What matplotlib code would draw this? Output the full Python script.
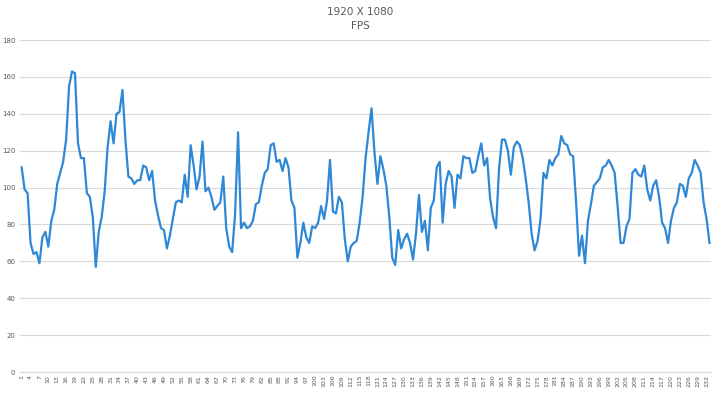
import numpy as np
import matplotlib.pyplot as plt

# fps values, frame samples 1..233
fps = [111, 99, 97, 70, 64, 65, 59, 73, 76, 68,
       82, 88, 102, 108, 114, 126, 155, 163, 162, 124,
       116, 116, 97, 95, 84, 57, 76, 84, 98, 122,
       136, 124, 140, 141, 153, 126, 106, 105, 102, 104,
       104, 112, 111, 104, 109, 93, 85, 78, 77, 67,
       74, 83, 92, 93, 92, 107, 95, 123, 112, 99,
       106, 125, 98, 100, 95, 88, 90, 92, 106, 78,
       68, 65, 86, 130, 78, 81, 78, 79, 82, 91,
       92, 101, 108, 110, 123, 124, 114, 115, 109, 116,
       111, 93, 89, 62, 70, 81, 73, 70, 79, 78,
       81, 90, 83, 93, 115, 87, 86, 95, 92, 72,
       60, 68, 70, 71, 81, 95, 116, 130, 143, 119,
       102, 117, 110, 101, 84, 62, 58, 77, 67, 72,
       75, 70, 61, 75, 96, 76, 82, 66, 89, 93,
       111, 114, 81, 102, 109, 106, 89, 107, 105, 117,
       116, 116, 108, 109, 117, 124, 112, 116, 94, 84,
       78, 110, 126, 126, 120, 107, 122, 125, 123, 116,
       105, 92, 75, 66, 71, 83, 108, 105, 115, 112,
       116, 118, 128, 124, 123, 118, 117, 92, 63, 74,
       59, 82, 91, 101, 103, 105, 111, 112, 115, 112,
       108, 90, 70, 70, 79, 83, 108, 110, 107, 106,
       112, 99, 93, 101, 104, 95, 81, 78, 70, 82,
       89, 92, 102, 101, 95, 105, 108, 115, 112, 108,
       92, 83, 70]
frames = np.arange(1, len(fps) + 1)
xlabels = [str(i) for i in frames[::3]]
yticks = np.arange(0, 181, 20)

fig = plt.figure(figsize=(7.2, 3.93), dpi=100)
ax = fig.add_axes([0.028, 0.0534, 0.9595, 0.8446])

ax.plot(frames, fps, color='#2E88D6', linewidth=1.6)

ax.set_xlim(0.5, len(fps) + 0.5)
ax.set_ylim(0, 180)
ax.set_yticks(yticks)
ax.set_xticks(frames[::3])
ax.set_xticklabels(xlabels, rotation=90, fontsize=4.5, color='#595959')
ax.tick_params(axis='y', labelsize=5, colors='#595959', length=0, pad=3.5)
ax.tick_params(axis='x', length=0, pad=2)

ax.grid(axis='y', color='#D9D9D9', linewidth=0.8)
ax.set_axisbelow(True)
for s in ['top', 'right', 'left']:
    ax.spines[s].set_visible(False)
ax.spines['bottom'].set_color('#D9D9D9')

fig.text(0.5, 0.97, '1920 X 1080', ha='center', va='center', fontsize=7.5, color='#595959')
fig.text(0.5, 0.935, 'FPS', ha='center', va='center', fontsize=7.5, color='#595959')

fig.savefig('out.png', dpi=100)
